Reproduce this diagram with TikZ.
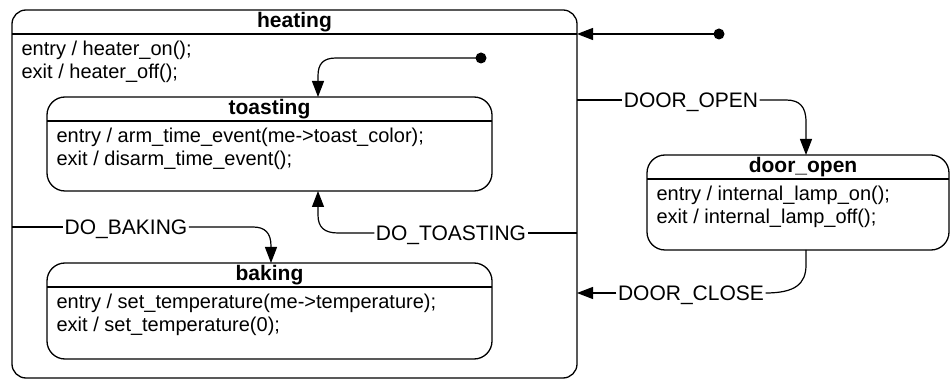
\documentclass[tikz,border=0pt]{standalone}
\usepackage{fontspec}
\setmainfont{Liberation Sans}
\usetikzlibrary{arrows.meta}
\begin{document}
\begin{tikzpicture}[x=1pt,y=-1pt,
  font=\fontsize{21pt}{23pt}\selectfont,
  every path/.style={line width=1.2pt},
  box/.style={draw, line width=1.3pt, rounded corners=#1, inner sep=0pt, outer sep=0pt, anchor=north west},
  box/.default=18pt,
  ttl/.style={font=\fontsize{21pt}{23pt}\selectfont\bfseries, anchor=base, inner sep=0pt},
  act/.style={font=\fontsize{20pt}{23pt}\selectfont, anchor=base west, inner sep=0pt},
  lbl/.style={inner sep=1pt, text height=15pt, text depth=0pt},
  dot/.style={circle, fill=black, minimum size=11pt, inner sep=0pt},
  arr/.style={-{Triangle[length=16pt,width=12pt]}},
]
\useasboundingbox (0,0) rectangle (951,379);

% states
\node[box=14pt, minimum width=565pt, minimum height=368pt] (heating) at (12,10) {};
\draw[line width=1.3pt] (heating.north west) ++(0,24) -- ++(565,0);
\node[ttl] (heatingT) at (294.5,28) {heating};
\node[act] (heatingE) at (21,56) {entry / heater\_on();};
\node[act] (heatingX) at (21,79) {exit / heater\_off();};

\node[box, minimum width=445pt, minimum height=94pt] (toasting) at (47,97) {};
\draw[line width=1.3pt] (toasting.north west) ++(0,24) -- ++(445,0);
\node[ttl] (toastingT) at (269.5,115) {toasting};
\node[act] (toastingE) at (56,143) {entry / arm\_time\_event(me->toast\_color);};
\node[act] (toastingX) at (56,166) {exit / disarm\_time\_event();};

\node[box, minimum width=445pt, minimum height=96pt] (baking) at (47,263) {};
\draw[line width=1.3pt] (baking.north west) ++(0,24) -- ++(445,0);
\node[ttl] (bakingT) at (269.5,281) {baking};
\node[act] (bakingE) at (56,309) {entry / set\_temperature(me->temperature);};
\node[act] (bakingX) at (56,332) {exit / set\_temperature(0);};

\node[box, minimum width=302pt, minimum height=95pt] (door) at (647,155) {};
\draw[line width=1.3pt] (door.north west) ++(0,24) -- ++(302,0);
\node[ttl] (doorT) at (803,173) {door\_open};
\node[act] (doorE) at (656,201) {entry / internal\_lamp\_on();};
\node[act] (doorX) at (656,224) {exit / internal\_lamp\_off();};

% helper columns
\coordinate (tx) at (318,0);
\coordinate (bx) at (271,0);
\coordinate (dx) at (806,0);

% initial transitions
\node[dot] (init1) at (719,34) {};
\draw[arr] (init1.center) -- (init1 -| heating.east);

\node[dot] (init2) at (481,58) {};
\draw[arr] (init2.center) -- (336,58) .. controls (323,58) and (318,64) .. (318,76) -- (tx |- toasting.north);

% DO_TOASTING
\node[lbl] (ldt) at (451,233) {DO\_TOASTING};
\draw (heating.east |- ldt) -- (ldt);
\draw[arr] (ldt.west) -- (338,233) .. controls (324,233) and (318,227) .. (318,215) -- (tx |- toasting.south);

% DO_BAKING
\node[lbl] (ldb) at (126,227) {DO\_BAKING};
\draw (heating.west |- ldb) -- (ldb);
\draw[arr] (ldb.east) -- (253,227) .. controls (265,227) and (271,233) .. (271,246) -- (bx |- baking.north);

% DOOR_OPEN
\node[lbl] (ldo) at (691,100) {DOOR\_OPEN};
\draw (heating.east |- ldo) -- (ldo);
\draw[arr] (ldo.east) -- (786,100) .. controls (800,100) and (806,107) .. (806,122) -- (dx |- door.north);

% DOOR_CLOSE
\node[lbl] (ldc) at (691,293) {DOOR\_CLOSE};
\draw (dx |- door.south) -- (806,265) .. controls (806,284) and (795,293) .. (ldc.east);
\draw[arr] (ldc) -- (heating.east |- ldc);
\end{tikzpicture}
\end{document}
